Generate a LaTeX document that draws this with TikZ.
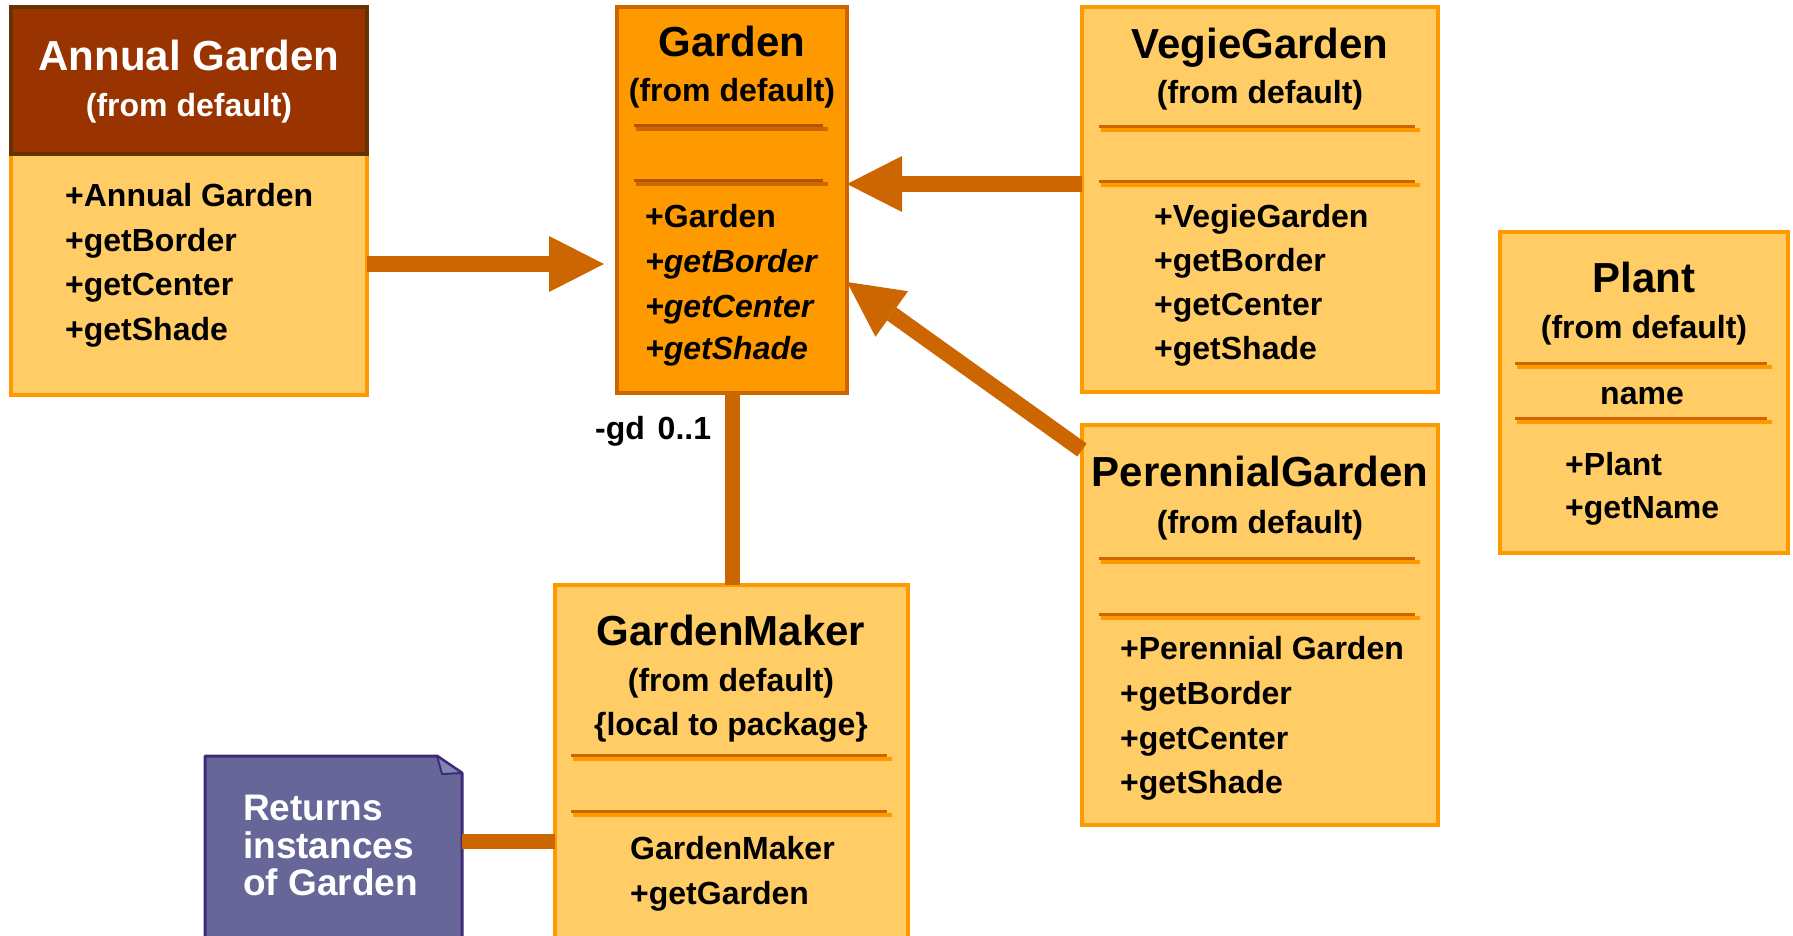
\documentclass[tikz,border=0pt]{standalone}
\usepackage{fontspec}
\setmainfont{Liberation Sans}
\usetikzlibrary{arrows.meta}
\definecolor{boxfill}{HTML}{FFCC66}
\definecolor{boxline}{HTML}{FF9900}
\definecolor{gardenfill}{HTML}{FF9900}
\definecolor{gardenline}{HTML}{CC6600}
\definecolor{sepdark}{HTML}{CC6600}
\definecolor{sepdarker}{HTML}{B35400}
\definecolor{arrowc}{HTML}{CC6600}
\definecolor{annhead}{HTML}{993300}
\definecolor{annheadline}{HTML}{663300}
\definecolor{notefill}{HTML}{666699}
\definecolor{noteline}{HTML}{3D2B7A}
\definecolor{notefold}{HTML}{8585B5}
\newcommand\sepline[5]{%
  \draw[#4, line width=3pt] (#1,#3-1.5) -- (#2-5,#3-1.5);
  \draw[#5, line width=4pt] (#1+2,#3+1.5) -- (#2,#3+1.5);}
\begin{document}
\begin{tikzpicture}[x=1pt,y=-1pt,
  box/.style={draw=boxline, fill=boxfill, line width=4pt, rectangle, anchor=north west, inner sep=0pt, outer sep=0pt},
  ttl/.style={font=\fontsize{42}{48}\selectfont\bfseries, text height=31.5pt, text depth=8.4pt, inner sep=0pt},
  sub/.style={font=\fontsize{32}{38}\selectfont\bfseries, text height=24pt, text depth=6.4pt, inner sep=0pt},
  meth/.style={sub, anchor=west},
  notetxt/.style={font=\fontsize{37}{40}\selectfont\bfseries, text=white, text height=27.75pt, text depth=7.4pt, inner sep=0pt, anchor=west},
  conn/.style={draw=arrowc, line width=16pt},
  arr/.style={conn, -{Triangle[length=55pt,width=56pt,line width=0pt]}},
]
\useasboundingbox (0,0) rectangle (1793,935);
\clip (0,0) rectangle (1793,935);

% ---------- Annual Garden ----------
\node[box, minimum width=356pt, minimum height=388pt] (annual) at (11,7) {};
\node[box, draw=annheadline, fill=annhead, minimum width=356pt, minimum height=147pt] (annhead) at (11,7) {};
\node[ttl, text=white] (an-t) at (189,58.6) {Annual Garden};
\node[sub, text=white] (an-s) at (189,108) {(from default)};
\foreach \t [count=\i] in {+Annual Garden,+getBorder,+getCenter,+getShade}
  \node[meth] (an-m\i) at (65,{198+44.5*(\i-1)}) {\t};

% ---------- Garden ----------
\node[box, draw=gardenline, fill=gardenfill, minimum width=230pt, minimum height=386pt] (garden) at (617,7) {};
\node[ttl] (ga-t) at (732,44.6) {Garden};
\node[sub] (ga-s) at (732,93) {(from default)};
\sepline{634}{828}{127}{sepdarker}{sepdark}
\sepline{634}{828}{182}{sepdarker}{sepdark}
\node[meth] (ga-m1) at (645,219) {+Garden};
\node[meth] (ga-m2) at (645,264) {\itshape +getBorder};
\node[meth] (ga-m3) at (645,309) {\itshape +getCenter};
\node[meth] (ga-m4) at (645,351) {\itshape +getShade};

% ---------- VegieGarden ----------
\node[box, minimum width=356pt, minimum height=385pt] (vegie) at (1082,7) {};
\node[ttl] (ve-t) at (1260,47) {VegieGarden};
\node[sub] (ve-s) at (1260,95) {(from default)};
\sepline{1099}{1420}{128}{sepdark}{boxline}
\sepline{1099}{1420}{183}{sepdark}{boxline}
\foreach \t [count=\i] in {+VegieGarden,+getBorder,+getCenter,+getShade}
  \node[meth] (ve-m\i) at (1154,{219+44*(\i-1)}) {\t};

% ---------- PerennialGarden ----------
\node[box, minimum width=356pt, minimum height=400pt] (perennial) at (1082,425) {};
\node[ttl] (pe-t) at (1260,475) {PerennialGarden};
\node[sub] (pe-s) at (1260,525) {(from default)};
\sepline{1099}{1420}{560}{sepdark}{boxline}
\sepline{1099}{1420}{616}{sepdark}{boxline}
\foreach \t [count=\i] in {+Perennial Garden,+getBorder,+getCenter,+getShade}
  \node[meth] (pe-m\i) at (1120,{651+44.7*(\i-1)}) {\t};

% ---------- Plant ----------
\node[box, minimum width=288pt, minimum height=321pt] (plant) at (1500,232) {};
\node[ttl] (pl-t) at (1644,281) {Plant};
\node[sub] (pl-s) at (1644,330) {(from default)};
\sepline{1515}{1772}{365}{sepdark}{boxline}
\node[sub] (pl-a) at (1642,396) {name};
\sepline{1515}{1772}{420}{sepdark}{boxline}
\node[meth] (pl-m1) at (1565,467) {+Plant};
\node[meth] (pl-m2) at (1565,510) {+getName};

% ---------- GardenMaker ----------
\node[box, minimum width=353pt, minimum height=400pt] (gm) at (555,585) {};
\node[ttl] (gm-t) at (731,634) {GardenMaker};
\node[sub] (gm-s) at (731,683) {(from default)};
\node[sub] (gm-l) at (731,727) {\{local to package\}};
\sepline{571}{892}{757}{sepdark}{boxline}
\sepline{571}{892}{813}{sepdark}{boxline}
\node[meth] (gm-m1) at (630,851) {GardenMaker};
\node[meth] (gm-m2) at (630,896) {+getGarden};

% ---------- Note ----------
\node[minimum width=257pt, minimum height=220pt, inner sep=0pt, outer sep=0pt, anchor=north west] (note) at (205,756) {};
\filldraw[fill=notefill, draw=noteline, line width=3pt, line join=round]
  (note.south west) -- (note.north west) -- ([xshift=-25pt]note.north east)
  -- ([yshift=-17pt]note.north east) -- (note.south east) -- cycle;
\filldraw[fill=notefold, draw=noteline, line width=2pt, line join=round]
  ([xshift=-25pt]note.north east) -- ([xshift=-20pt,yshift=-18pt]note.north east)
  -- ([yshift=-17pt]note.north east) -- cycle;
\node[notetxt] (no-1) at (243,810) {Returns};
\node[notetxt] (no-2) at (243,848) {instances};
\node[notetxt] (no-3) at (243,885) {of Garden};

% ---------- Connectors ----------
\draw[arr, shorten >=13pt] ([yshift=-257pt]annual.north east) -- ([yshift=-257pt]garden.north west);
\draw[arr] ([yshift=-177pt]vegie.north west) -- ([yshift=-177pt]garden.north east);
\draw[arr] ([yshift=-25pt]perennial.north west) -- ([yshift=-275pt]garden.north east);
\draw[conn, line width=15pt] (garden.south) -- (garden.south |- gm.north);
\draw[conn, line width=15pt] ([yshift=-85pt]note.north east) -- ([yshift=-256pt]gm.north west);
\node[sub, anchor=west] (gdlabel) at (595,431) {-gd\hspace{0.4em}0..1};
\end{tikzpicture}
\end{document}
